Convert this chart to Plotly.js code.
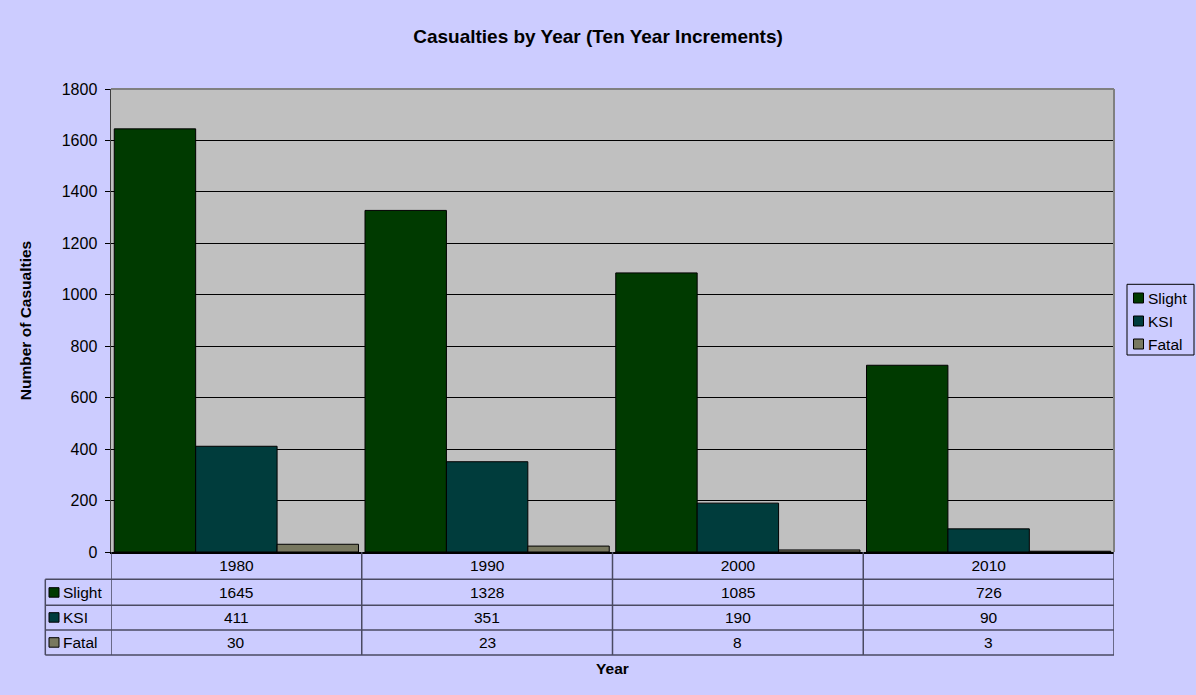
<!DOCTYPE html>
<html>
<head>
<meta charset="utf-8">
<script src="https://cdn.plot.ly/plotly-3.0.1.min.js"></script>
<style>html,body{margin:0;padding:0;background:#ccccff;}#chart{width:1196px;height:695px;}</style>
</head>
<body>
<div id="chart"></div>
<script>
// ---- data ----
var categories = ['1980', '1990', '2000', '2010'];
var seriesNames = ['Slight', 'KSI', 'Fatal'];
var slight = [1645, 1328, 1085, 726];
var ksi = [411, 351, 190, 90];
var fatal = [30, 23, 8, 3];
var yTicks = [0, 200, 400, 600, 800, 1000, 1200, 1400, 1600, 1800];

// ---- style ----
var colors = ['#003a00', '#003c3c', '#787860'];
var FONT = 'Arial, "Liberation Sans", sans-serif';
var W = 1196, H = 695, ML = 111, MR = 82, MT = 89, MB = 143;
var PW = W - ML - MR, PH = H - MT - MB;
function px2x(p) { return (p - ML) / PW; }
function py2y(p) { return (H - MB - p) / PH; }

var seriesVals = [slight, ksi, fatal];
var traces = seriesVals.map(function (vals, i) {
  return {
    type: 'bar', name: seriesNames[i], x: categories, y: vals,
    marker: { color: colors[i], line: { color: '#000', width: 1 } },
    hoverinfo: 'x+y+name'
  };
});

var shapes = [], annotations = [];
var tableLine = { color: '#4a4a62', width: 1.5 };
// table horizontal lines
var rowLines = [579.3, 605.3, 630, 655];
rowLines.forEach(function (p) {
  shapes.push({ type: 'line', xref: 'paper', yref: 'paper', x0: px2x(45.3), x1: 1, y0: py2y(p), y1: py2y(p), line: tableLine });
});
// vertical lines at category boundaries
for (var k = 0; k <= categories.length; k++) {
  shapes.push({ type: 'line', xref: 'x', yref: 'paper', x0: k - 0.5, x1: k - 0.5, y0: 0, y1: py2y(655), line: tableLine });
}
shapes.push({ type: 'line', xref: 'paper', yref: 'paper', x0: px2x(45.3), x1: px2x(45.3), y0: py2y(579.3), y1: py2y(655), line: tableLine });
// plot area top/right border
shapes.push({ type: 'line', xref: 'paper', yref: 'paper', x0: 0, x1: 1, y0: 1, y1: 1, line: { color: '#808080', width: 2 } });
shapes.push({ type: 'line', xref: 'paper', yref: 'paper', x0: 1, x1: 1, y0: 0, y1: 1, line: { color: '#808080', width: 2 } });

var TXT = 15.5;
// table rows
var rowCenters = [592.7, 617.7, 642.7];
seriesNames.forEach(function (nm, i) {
  var yc = rowCenters[i];
  shapes.push({ type: 'rect', xref: 'paper', yref: 'paper', x0: px2x(49), x1: px2x(59), y0: py2y(yc + 4.5), y1: py2y(yc - 5), fillcolor: colors[i], line: { color: '#000', width: 1 } });
  annotations.push({ xref: 'paper', yref: 'paper', x: px2x(61), y: py2y(yc), xanchor: 'left', yanchor: 'middle', text: nm, showarrow: false, font: { family: FONT, size: TXT, color: '#000' } });
  seriesVals[i].forEach(function (v, j) {
    annotations.push({ xref: 'x', yref: 'paper', x: j, y: py2y(yc), xanchor: 'center', yanchor: 'middle', text: String(v), showarrow: false, font: { family: FONT, size: TXT, color: '#000' } });
  });
});

// custom legend at right
shapes.push({ type: 'rect', xref: 'paper', yref: 'paper', x0: px2x(1127), x1: px2x(1194), y0: py2y(355), y1: py2y(284.3), line: { color: '#000', width: 1 }, fillcolor: 'rgba(0,0,0,0)' });
var legCenters = [298, 321, 344];
seriesNames.forEach(function (nm, i) {
  var yc = legCenters[i];
  shapes.push({ type: 'rect', xref: 'paper', yref: 'paper', x0: px2x(1133.5), x1: px2x(1143.5), y0: py2y(yc + 5), y1: py2y(yc - 5), fillcolor: colors[i], line: { color: '#000', width: 1 } });
  annotations.push({ xref: 'paper', yref: 'paper', x: px2x(1145.5), y: py2y(yc), xanchor: 'left', yanchor: 'middle', text: nm, showarrow: false, font: { family: FONT, size: TXT, color: '#000' } });
});

var layout = {
  width: W, height: H,
  margin: { l: ML, r: MR, t: MT, b: MB, pad: 0 },
  paper_bgcolor: '#ccccff', plot_bgcolor: '#c0c0c0',
  font: { family: FONT, size: TXT, color: '#000' },
  showlegend: false,
  barmode: 'group', bargap: 0.026, bargroupgap: 0,
  title: { text: '<b>Casualties by Year (Ten Year Increments)</b>', font: { family: FONT, size: 19, color: '#000' }, xref: 'container', yref: 'container', x: 0.5, xanchor: 'center', y: 1 - 36 / H, yanchor: 'middle' },
  xaxis: {
    type: 'category', categoryarray: categories, range: [-0.5, categories.length - 0.5],
    showline: true, linecolor: '#000', linewidth: 1.5, ticks: '', showgrid: false,
    tickfont: { family: FONT, size: TXT, color: '#000' }, ticklabelstandoff: -1,
    title: { text: '<b>Year</b>', font: { family: FONT, size: TXT, color: '#000' }, standoff: 90 },
    automargin: false, fixedrange: true
  },
  yaxis: {
    range: [0, 1800], tickvals: yTicks, ticktext: yTicks.map(String),
    showline: true, linecolor: '#404040', linewidth: 1.5,
    ticks: 'outside', ticklen: 5, tickcolor: '#000', tickwidth: 1,
    showgrid: true, gridcolor: '#000', gridwidth: 1, zeroline: false,
    tickfont: { family: FONT, size: 16, color: '#000' }, ticklabelstandoff: 4,
    title: { text: '<b>Number of Casualties</b>', font: { family: FONT, size: TXT, color: '#000' }, standoff: 26 },
    automargin: false, fixedrange: true
  },
  shapes: shapes,
  annotations: annotations
};

Plotly.newPlot('chart', traces, layout, { displayModeBar: false, staticPlot: true });
</script>
</body>
</html>
